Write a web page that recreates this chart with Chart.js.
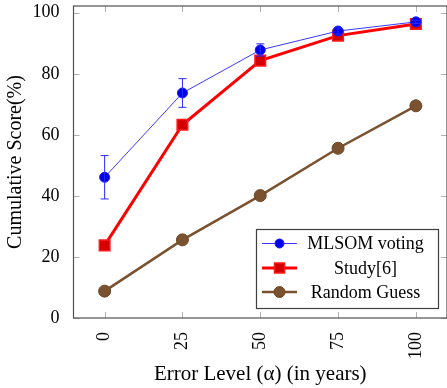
<!DOCTYPE html>
<html><head><meta charset="utf-8">
<script src="https://cdn.jsdelivr.net/npm/chart.js@4/dist/chart.umd.min.js"></script>
<style>html,body{margin:0;padding:0;background:#fff}#w{width:447px;height:388px}</style>
</head><body><div id="w"><canvas id="c"></canvas></div>
<script>
const errorLevels = [0, 25, 50, 75, 100];
const mlsomVoting = [46.1, 73.7, 87.8, 94.0, 97.0];
const mlsomError = [7.1, 4.7, 2.0, 1.0, 0.5];
const study6 = [23.8, 63.3, 84.3, 92.5, 96.3];
const randomGuess = [8.8, 25.6, 40.1, 55.6, 69.5];
const xTickValues = [0, 25, 50, 75, 100];
const yTickValues = [0, 20, 40, 60, 80, 100];
const seriesNames = ['MLSOM voting', 'Study[6]', 'Random Guess'];

const SERIF = '"Liberation Serif", "DejaVu Serif", serif';
const toXY = arr => arr.map((v, i) => ({x: errorLevels[i], y: v}));
const noPad = s => { s.paddingLeft = 0; s.paddingRight = 0; s.paddingTop = 0; s.paddingBottom = 0; };

const decor = {
  id: 'decor',
  afterDatasetsDraw(chart) {
    const ctx = chart.ctx, xs = chart.scales.x, ys = chart.scales.y, a = chart.chartArea;
    ctx.save();
    // error bars
    ctx.strokeStyle = '#2a2aff'; ctx.lineWidth = 1;
    mlsomVoting.forEach((v, i) => {
      const px = xs.getPixelForValue(errorLevels[i]);
      const t = ys.getPixelForValue(v + mlsomError[i]);
      const b = ys.getPixelForValue(v - mlsomError[i]);
      ctx.beginPath();
      ctx.moveTo(px, t); ctx.lineTo(px, b);
      ctx.moveTo(px - 4, t); ctx.lineTo(px + 4, t);
      ctx.moveTo(px - 4, b); ctx.lineTo(px + 4, b);
      ctx.stroke();
    });
    // inner ticks
    ctx.strokeStyle = '#b0b0b0'; ctx.lineWidth = 1;
    ctx.beginPath();
    xTickValues.forEach(v => {
      const px = Math.round(xs.getPixelForValue(v)) + 0.5;
      ctx.moveTo(px, a.bottom); ctx.lineTo(px, a.bottom - 6);
      ctx.moveTo(px, a.top); ctx.lineTo(px, a.top + 6);
    });
    yTickValues.forEach(v => {
      const py = Math.round(ys.getPixelForValue(v)) + 0.5;
      ctx.moveTo(a.left, py); ctx.lineTo(a.left + 6, py);
      ctx.moveTo(a.right, py); ctx.lineTo(a.right - 6, py);
    });
    ctx.stroke();
    // frame
    ctx.strokeStyle = '#505050'; ctx.lineWidth = 1.2;
    ctx.strokeRect(a.left, a.top, a.right - a.left, a.bottom - a.top);
    // legend
    const lx = 256.5, ly = 229.5, lw = 182, lh = 79;
    ctx.fillStyle = '#fff';
    ctx.fillRect(lx, ly, lw, lh);
    ctx.strokeStyle = '#404040'; ctx.lineWidth = 1.2;
    ctx.strokeRect(lx, ly, lw, lh);
    const rows = [243.5, 268, 292];
    ctx.font = '18px ' + SERIF;
    ctx.textAlign = 'center'; ctx.textBaseline = 'middle';
    chart.data.datasets.forEach((ds, i) => {
      const y = rows[i];
      ctx.strokeStyle = ds.borderColor; ctx.lineWidth = ds.borderWidth;
      ctx.beginPath(); ctx.moveTo(262, y); ctx.lineTo(297, y); ctx.stroke();
      ctx.fillStyle = ds.pointBackgroundColor; ctx.strokeStyle = ds.pointBorderColor;
      ctx.lineWidth = ds.pointBorderWidth;
      if (ds.pointStyle === 'rect') {
        ctx.fillRect(274.5, y - 5, 10, 10); ctx.strokeRect(274.5, y - 5, 10, 10);
      } else {
        ctx.beginPath(); ctx.arc(279.5, y, ds.pointRadius - 0.5, 0, Math.PI * 2); ctx.fill(); ctx.stroke();
      }
      ctx.fillStyle = '#000';
      ctx.fillText(ds.label, 365.5, y + 1);
    });
    ctx.restore();
  }
};

new Chart(document.getElementById('c'), {
  type: 'line',
  data: {
    datasets: [
      {label: seriesNames[0], data: toXY(mlsomVoting), borderColor: '#3a3aff', borderWidth: 1,
       pointStyle: 'circle', pointRadius: 5, pointBackgroundColor: '#0000e6', pointBorderColor: '#1a1aff', pointBorderWidth: 1},
      {label: seriesNames[1], data: toXY(study6), borderColor: '#ff0000', borderWidth: 3,
       pointStyle: 'rect', pointRadius: 7.5, pointBackgroundColor: '#d40000', pointBorderColor: '#ff1a1a', pointBorderWidth: 1.5},
      {label: seriesNames[2], data: toXY(randomGuess), borderColor: '#7a5230', borderWidth: 2.5,
       pointStyle: 'circle', pointRadius: 6, pointBackgroundColor: '#7a5230', pointBorderColor: '#6a4626', pointBorderWidth: 1}
    ]
  },
  options: {
    responsive: true, maintainAspectRatio: false, animation: false,
    layout: {autoPadding: false, padding: {top: 6, right: 0, left: 0, bottom: 0}},
    plugins: {legend: {display: false}, tooltip: {enabled: false}},
    scales: {
      x: {
        type: 'linear', min: -10, max: 110,
        afterBuildTicks: s => { s.ticks = xTickValues.map(v => ({value: v})); },
        afterFit: s => { s.height = 70; noPad(s); },
        grid: {display: false}, border: {display: false},
        ticks: {minRotation: 90, maxRotation: 90, padding: 6, color: '#000', font: {family: SERIF, size: 18}},
        title: {display: true, text: 'Error Level (α) (in years)', color: '#000', font: {family: SERIF, size: 21}, padding: {top: 0, bottom: 1}}
      },
      y: {
        type: 'linear', min: 0, max: 102.2,
        afterBuildTicks: s => { s.ticks = yTickValues.map(v => ({value: v})); },
        afterFit: s => { s.width = 73.5; noPad(s); },
        grid: {display: false}, border: {display: false},
        ticks: {padding: 6, color: '#000', font: {family: SERIF, size: 18}},
        title: {display: true, text: 'Cumulative Score(%)', color: '#000', font: {family: SERIF, size: 20}, padding: {top: 4, bottom: 0}}
      }
    }
  },
  plugins: [decor]
});
</script></body></html>
